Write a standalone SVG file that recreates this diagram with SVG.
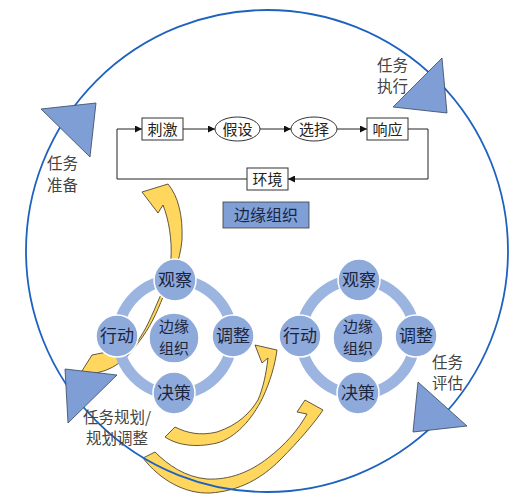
<svg xmlns="http://www.w3.org/2000/svg" width="516" height="500" viewBox="0 0 516 500">
<style>
text{font-family:"Noto Sans CJK SC","Noto Sans",sans-serif}
.box{fill:#fff;stroke:#333;stroke-width:1}
.ft{font-size:15px;fill:#222;text-anchor:middle}
.lbl{font-size:15.5px;fill:#444}
.tri{fill:#7f9ed6;stroke:#34465f;stroke-width:0.8}
.ya{fill:#ffd75e;stroke:#3a3220;stroke-width:0.8}
.ring{fill:none;stroke:#9cb5e0;stroke-width:11}
.nd{fill:#8eaadb;stroke:#fff;stroke-width:1.5}
.nt{font-size:17px;fill:#1b2540;text-anchor:middle}
.ct{font-size:15px;fill:#1b2540;text-anchor:middle}
.cn{fill:none;stroke:#222;stroke-width:1}
</style>
<defs>
<marker id="ah" viewBox="0 0 10 10" refX="10" refY="5" markerWidth="9" markerHeight="7" markerUnits="userSpaceOnUse" orient="auto">
<path d="M0,0 L10,5 L0,10 Z" fill="#111"/>
</marker>
</defs>
<rect width="516" height="500" fill="#fff"/>

<g id="yellow-arrows">
<path class="ya" d="M80,374 Q116,376 138,343 C150,328 157,312 163,297 C172,278 180,262 182,240 C183,215 178,196 168,184 L142,192 L158,213 L163,205 C169,220 172,240 171,258 C169,276 164,288 159,299 C152,315 146,330 137,342 C122,350 106,352 92,355 Z"/>
<path class="ya" d="M165,437 C180,447 200,447 217,443 C235,438 252,420 263,397 C270,382 275,365 277,350 L255,345 L262,363 L268,358 C266,375 263,388 258,400 C250,413 238,425 217,432 C200,436 187,433 175,427 Z"/>
<path class="ya" d="M143,458 C160,480 185,494 210,493 C240,491 262,478 280,460 C300,440 315,422 323,410 L305,400 L297,412 L307,414 C298,430 285,445 268,458 C250,472 230,480 207,479 C185,477 168,465 155,452 Z"/>
</g>

<g id="cycle">
<circle cx="267" cy="251" r="241" fill="none" stroke="#1e62c0" stroke-width="1.8"/>
<polygon class="tri" points="41,109 96,103 90,157"/>
<polygon class="tri" points="393,107 442,58 447,113"/>
<polygon class="tri" points="65,369 117,375 68,423"/>
<polygon class="tri" points="418,382 467,426 413,432"/>
</g>

<g id="labels">
<text class="lbl" x="47" y="169">任务</text>
<text class="lbl" x="47" y="191">准备</text>
<text class="lbl" x="377" y="71">任务</text>
<text class="lbl" x="377" y="92">执行</text>
<text class="lbl" x="432" y="368">任务</text>
<text class="lbl" x="432" y="389">评估</text>
<text class="lbl" x="83" y="423">任务规划/</text>
<text class="lbl" x="86" y="444">规划调整</text>
</g>

<g id="connectors">
<path class="cn" d="M183,129 H215" marker-end="url(#ah)"/>
<path class="cn" d="M260,129 H291" marker-end="url(#ah)"/>
<path class="cn" d="M337,129 H367" marker-end="url(#ah)"/>
<path class="cn" d="M408,129 H428 V179 H288" marker-end="url(#ah)"/>
<path class="cn" d="M247,179 H117 V129 H142" marker-end="url(#ah)"/>
</g>

<g id="node-ciji"><rect class="box" x="142" y="118" width="41" height="22"/><text class="ft" x="162.5" y="134.5">刺激</text></g>
<g id="node-jiashe"><ellipse class="box" cx="237.5" cy="129" rx="22.5" ry="12"/><text class="ft" x="237.5" y="134.5">假设</text></g>
<g id="node-xuanze"><ellipse class="box" cx="314" cy="129" rx="23" ry="12"/><text class="ft" x="314" y="134.5">选择</text></g>
<g id="node-xiangying"><rect class="box" x="367" y="118" width="41" height="22"/><text class="ft" x="387.5" y="134.5">响应</text></g>
<g id="node-huanjing"><rect class="box" x="247" y="168" width="41" height="22"/><text class="ft" x="267.5" y="184.5">环境</text></g>
<g id="node-title"><rect x="223" y="202" width="86" height="26" fill="#7f9fd6" stroke="#3a3a3a" stroke-width="0.8"/><text x="266" y="221" font-size="16" fill="#1b2540" text-anchor="middle">边缘组织</text></g>

<g id="cluster-left">
<circle class="ring" cx="175" cy="337" r="57"/>
<circle class="nd" cx="175" cy="280" r="21"/><text class="nt" x="175" y="286">观察</text>
<circle class="nd" cx="117" cy="336" r="21"/><text class="nt" x="117" y="342">行动</text>
<circle class="nd" cx="233" cy="336" r="21"/><text class="nt" x="233" y="342">调整</text>
<circle class="nd" cx="174" cy="393" r="21"/><text class="nt" x="174" y="399">决策</text>
<circle class="nd" cx="174" cy="338" r="25"/><text class="ct" x="174" y="332">边缘</text><text class="ct" x="174" y="354">组织</text>
</g>

<g id="cluster-right">
<circle class="ring" cx="358" cy="337" r="57"/>
<circle class="nd" cx="359" cy="280" r="21"/><text class="nt" x="359" y="286">观察</text>
<circle class="nd" cx="300" cy="336" r="21"/><text class="nt" x="300" y="342">行动</text>
<circle class="nd" cx="416" cy="336" r="21"/><text class="nt" x="416" y="342">调整</text>
<circle class="nd" cx="358" cy="393" r="21"/><text class="nt" x="358" y="399">决策</text>
<circle class="nd" cx="358" cy="338" r="25"/><text class="ct" x="358" y="332">边缘</text><text class="ct" x="358" y="354">组织</text>
</g>
</svg>
